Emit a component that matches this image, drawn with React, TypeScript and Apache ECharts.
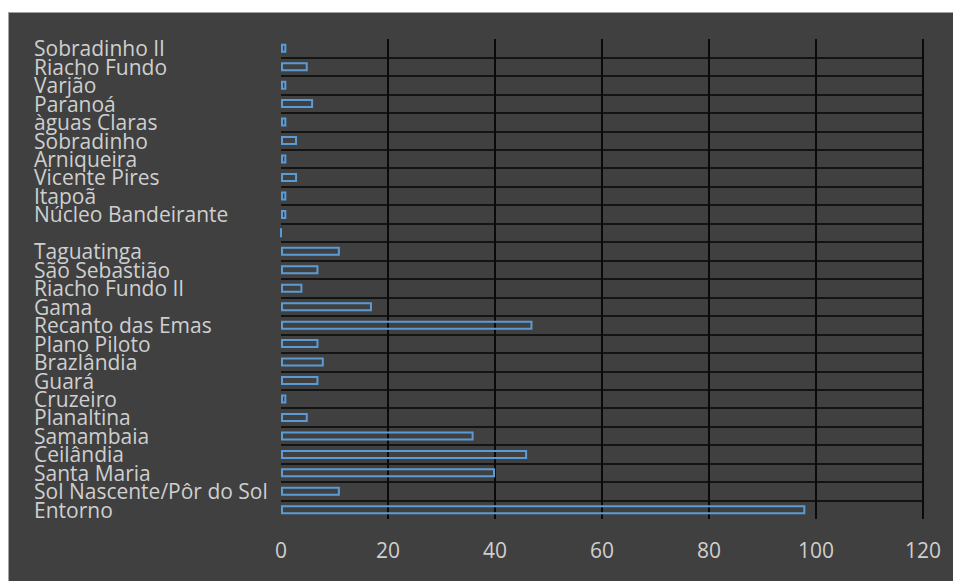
import React, { useEffect, useRef } from "react";
import * as echarts from "echarts";

// Regions listed top to bottom; the empty entry is a blank row in the list.
const regions: string[] = [
  "Sobradinho II",
  "Riacho Fundo",
  "Varjão",
  "Paranoá",
  "àguas Claras",
  "Sobradinho",
  "Arniqueira",
  "Vicente Pires",
  "Itapoã",
  "Núcleo Bandeirante",
  "",
  "Taguatinga",
  "São Sebastião",
  "Riacho Fundo II",
  "Gama",
  "Recanto das Emas",
  "Plano Piloto",
  "Brazlândia",
  "Guará",
  "Cruzeiro",
  "Planaltina",
  "Samambaia",
  "Ceilândia",
  "Santa Maria",
  "Sol Nascente/Pôr do Sol",
  "Entorno",
];

const counts: number[] = [
  1, 5, 1, 6, 1, 3, 1, 3, 1, 1, 0, 11, 7, 4, 17, 47, 7, 8, 7, 1, 5, 36, 46, 40,
  11, 98,
];

const xMin = 0;
const xMax = 120;
const xStep = 20;

const FONT = "'Open Sans', 'DejaVu Sans', sans-serif";
const TEXT = "#cfcfcf";

export default function App() {
  const ref = useRef<HTMLDivElement>(null);

  useEffect(() => {
    if (!ref.current) return;
    const chart = echarts.init(ref.current, undefined, { renderer: "svg" });
    chart.setOption({
      animation: false,
      backgroundColor: "#404040",
      grid: { left: 272, top: 26, right: 30, bottom: 62, containLabel: false },
      xAxis: {
        type: "value",
        min: xMin,
        max: xMax,
        interval: xStep,
        axisLine: { show: false },
        axisTick: { show: false },
        axisLabel: {
          color: TEXT,
          fontFamily: FONT,
          fontSize: 21,
          margin: 20,
        },
        splitLine: {
          show: true,
          showMinLine: false,
          lineStyle: { color: "#0a0a0a", width: 2 },
        },
      },
      yAxis: {
        type: "category",
        data: regions,
        inverse: true,
        axisLine: { show: false },
        axisTick: { show: false },
        axisLabel: {
          interval: 0,
          align: "left",
          margin: 247,
          color: TEXT,
          fontFamily: FONT,
          fontSize: 21,
          lineHeight: 18,
        },
        splitLine: {
          show: true,
          showMinLine: false,
          showMaxLine: false,
          lineStyle: { color: "#141414", width: 2 },
        },
      },
      series: [
        {
          type: "bar",
          data: counts,
          barWidth: 9,
          itemStyle: {
            color: "rgba(0,0,0,0)",
            borderColor: "#5b9bd5",
            borderWidth: 2,
          },
          emphasis: { disabled: true },
        },
      ],
    });
    return () => chart.dispose();
  }, []);

  return (
    <div
      style={{
        position: "fixed",
        left: 8,
        top: 12,
        width: 945,
        height: 569,
        boxSizing: "border-box",
        borderTop: "1px solid #a3a3a3",
        borderLeft: "1px solid #a3a3a3",
        background: "#404040",
      }}
    >
      <div ref={ref} style={{ width: 944, height: 568 }} />
    </div>
  );
}
